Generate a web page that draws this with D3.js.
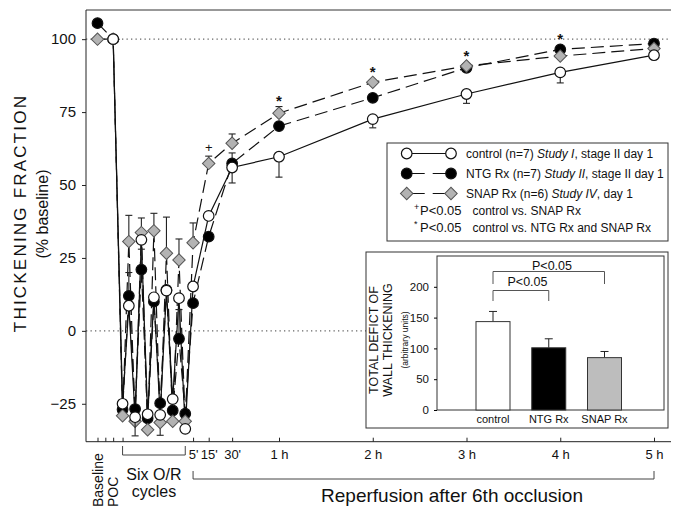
<!DOCTYPE html>
<html>
<head>
<meta charset="utf-8">
<script src="https://cdn.jsdelivr.net/npm/d3@7"></script>
<style>
  body { margin: 0; background: #fff; }
  svg { display: block; font-family: "Liberation Sans", Arial, sans-serif; }
</style>
</head>
<body>
<div id="chart"></div>
<script>
// protocol stages before reperfusion (baseline, POC, six occlusion / reperfusion cycles)
const preStages = ["Baseline", "POC", "O1", "R1", "O2", "R2", "O3", "R3", "O4", "R4", "O5", "R5", "O6"];
// reperfusion after 6th occlusion, in hours
const reperfHours = [5 / 60, 15 / 60, 30 / 60, 1, 2, 3, 4, 5];
const reperfLabels = ["5'", "15'", "30'", "1 h", "2 h", "3 h", "4 h", "5 h"];

// thickening fraction, % baseline (pre stages then reperfusion times)
const controlVals = [null, 100, -25, 8.6, -29.6, 31.2, -28.6, 11.5, -28.8, 13.8, -23.4, 11.2, -33.6,
                     15.2, 39.4, 56, 59.7, 72.6, 81.2, 88.6, 94.5];
const ntgVals     = [105.5, 100, -27, 12, -26.8, 21, -30, 10, -24.8, 14, -27.3, -2.7, -28.4,
                     9.5, 32.3, 57.4, 70.2, 79.9, 90.2, 96.5, 98.5];
const snapVals    = [100, 100, -29.1, 30.6, -31, 33.7, -33.9, 34.3, -31.4, 26.6, -31, 24.3, -31,
                     30.2, 57.4, 64.3, 74.6, 85.2, 90.8, 94.2, 96.8];

// SEM bars, signed: + drawn upward, - drawn downward, null = not shown
const controlErr = [null, null, null, null, -6.4, null, null, null, null, null, null, null, null,
                    null, null, -5.3, -7, -3, -3.2, -3.6, null];
const ntgErr     = [null, null, null, 8, null, 7, null, null, null, null, null, 10, null,
                    null, null, 3.6, null, null, null, null, null];
const snapErr    = [null, null, null, 9, null, 5, null, 6, -4.4, 12.4, null, 7.2, null,
                    6.8, 2.5, 3.2, 2.3, null, null, null, null];

// significance symbols
const sigStages = ["15'", "1 h", "2 h", "3 h", "4 h"];
const sigSymbols = ["+", "*", "*", "*", "*"];

// inset: total deficit of wall thickening
const insetCats = ["control", "NTG Rx", "SNAP Rx"];
const insetVals = [143.5, 101, 85];
const insetErr = [16.5, 14.6, 10];
const insetTicks = [0, 50, 100, 150, 200];

const W = 674, H = 508;
const svg = d3.select("#chart").append("svg").attr("width", W).attr("height", H);

const plot = { left: 86, right: 671, top: 10, bottom: 441.7 };
const y = d3.scaleLinear().domain([-38, 110]).range([plot.bottom, plot.top]);
const xPre = d3.scaleLinear().domain([0, 14]).range([97.5, 185.25]);
const xHour = d3.scaleLinear().domain([0, 5]).range([185.25, 654]);

const stageNames = preStages.concat(reperfLabels);
function slot(i) { return i === 0 ? 0 : i === 1 ? 2.5 : i + 2; }
function xAt(i) { return i < preStages.length ? xPre(slot(i)) : xHour(reperfHours[i - preStages.length]); }

// frame: top line, left axis, bottom axis
svg.append("line").attr("x1", plot.left).attr("x2", plot.right)
  .attr("y1", plot.top).attr("y2", plot.top).attr("stroke", "#333").attr("stroke-width", 1);

// dotted reference lines at 100 and 0
[100, 0].forEach(v => {
  svg.append("line").attr("x1", plot.left).attr("x2", plot.right)
    .attr("y1", y(v)).attr("y2", y(v))
    .attr("stroke", "#666").attr("stroke-width", 1.2).attr("stroke-dasharray", "1.3,3.2");
});

const yAxis = svg.append("g").attr("transform", `translate(${plot.left},0)`)
  .call(d3.axisLeft(y).tickValues([-25, 0, 25, 50, 75, 100]).tickSize(4).tickSizeOuter(0).tickPadding(6));
yAxis.select(".domain").attr("d", `M0,${plot.top}V${plot.bottom}`).attr("stroke", "#222");
yAxis.selectAll("text").style("font-size", "15px").attr("fill", "#111");
yAxis.selectAll(".tick line").attr("stroke", "#222");

svg.append("line").attr("x1", plot.left).attr("x2", plot.right)
  .attr("y1", plot.bottom).attr("y2", plot.bottom).attr("stroke", "#222");

const xAxisH = svg.append("g").attr("transform", `translate(0,${plot.bottom})`)
  .call(d3.axisBottom(xHour).tickValues(reperfHours).tickSize(-4).tickPadding(8)
    .tickFormat((d, i) => reperfLabels[i]));
xAxisH.select(".domain").remove();
xAxisH.selectAll("text").style("font-size", "13px").attr("fill", "#111");
xAxisH.selectAll(".tick line").attr("stroke", "#222");

const xAxisP = svg.append("g").attr("transform", `translate(0,${plot.bottom})`)
  .call(d3.axisBottom(xPre).tickValues([0, 1.25, 2.5, 4]).tickSize(-4).tickFormat(""));
xAxisP.select(".domain").remove();
xAxisP.selectAll(".tick line").attr("stroke", "#222");

// rotated stage labels
svg.append("text").attr("transform", `translate(${xPre(0) + 5},507) rotate(-90)`)
  .attr("text-anchor", "start").style("font-size", "14px").attr("fill", "#111").text("Baseline");
svg.append("text").attr("transform", `translate(${xPre(2.5) + 5},507) rotate(-90)`)
  .attr("text-anchor", "start").style("font-size", "14px").attr("fill", "#111").text("POC");

// brackets
const br1y = 455;
svg.append("path")
  .attr("d", `M${xPre(4)},${br1y - 9}V${br1y}H${xPre(14)}V${br1y - 9}`)
  .attr("fill", "none").attr("stroke", "#444");
svg.append("text").attr("x", (xPre(4) + xPre(14)) / 2).attr("y", 480)
  .attr("text-anchor", "middle").style("font-size", "16px").attr("fill", "#111").text("Six O/R");
svg.append("text").attr("x", (xPre(4) + xPre(14)) / 2).attr("y", 497)
  .attr("text-anchor", "middle").style("font-size", "16px").attr("fill", "#111").text("cycles");

const br2y = 479;
svg.append("path")
  .attr("d", `M${xHour(reperfHours[0])},${br2y - 8}V${br2y}H${xHour(5)}V${br2y - 8}`)
  .attr("fill", "none").attr("stroke", "#444");
svg.append("text").attr("x", 452).attr("y", 502)
  .attr("text-anchor", "middle").style("font-size", "19px").attr("fill", "#111")
  .text("Reperfusion after 6th occlusion");

// y axis title
svg.append("text").attr("transform", "translate(26,213) rotate(-90)")
  .attr("text-anchor", "middle").style("font-size", "17px").style("letter-spacing", "2.2px")
  .attr("fill", "#111").text("THICKENING FRACTION");
svg.append("text").attr("transform", "translate(48,214) rotate(-90)")
  .attr("text-anchor", "middle").style("font-size", "16px").attr("fill", "#111")
  .text("(% baseline)");

// series
const series = [
  { name: "NTG", vals: ntgVals, err: ntgErr, shape: "circle", fill: "#000", dash: "13,6" },
  { name: "SNAP", vals: snapVals, err: snapErr, shape: "diamond", fill: "#b3b3b3", dash: "13,6" },
  { name: "control", vals: controlVals, err: controlErr, shape: "circle", fill: "#fff", dash: null }
];

const line = d3.line().defined(d => d.v !== null).x(d => xAt(d.i)).y(d => y(d.v));

series.forEach(s => {
  const pts = s.vals.map((v, i) => ({ i, v, e: s.err[i] }));
  svg.append("path").datum(pts).attr("d", line)
    .attr("fill", "none").attr("stroke", "#111").attr("stroke-width", 1.2)
    .attr("stroke-dasharray", s.dash);
});

series.forEach(s => {
  const pts = s.vals.map((v, i) => ({ i, v, e: s.err[i] })).filter(d => d.v !== null);
  const g = svg.append("g");
  const eb = g.selectAll(".eb").data(pts.filter(d => d.e !== null)).enter().append("g");
  eb.append("line").attr("x1", d => xAt(d.i)).attr("x2", d => xAt(d.i))
    .attr("y1", d => y(d.v)).attr("y2", d => y(d.v + d.e)).attr("stroke", "#222").attr("stroke-width", 1.1);
  eb.append("line").attr("x1", d => xAt(d.i) - 3.5).attr("x2", d => xAt(d.i) + 3.5)
    .attr("y1", d => y(d.v + d.e)).attr("y2", d => y(d.v + d.e)).attr("stroke", "#222").attr("stroke-width", 1.1);
  if (s.shape === "circle") {
    g.selectAll(".m").data(pts).enter().append("circle")
      .attr("cx", d => xAt(d.i)).attr("cy", d => y(d.v)).attr("r", 5.3)
      .attr("fill", s.fill).attr("stroke", "#111").attr("stroke-width", 1.2);
  } else {
    g.selectAll(".m").data(pts).enter().append("path")
      .attr("transform", d => `translate(${xAt(d.i)},${y(d.v)}) rotate(45)`)
      .attr("d", "M-4.4,-4.4H4.4V4.4H-4.4Z")
      .attr("fill", s.fill).attr("stroke", "#555").attr("stroke-width", 1);
  }
});

// significance marks above the highest point / error bar
sigStages.forEach((st, k) => {
  const i = stageNames.indexOf(st);
  const topVal = d3.max(series, s => s.vals[i]);
  const topErr = d3.max(series, s => s.vals[i] + (s.err[i] > 0 ? s.err[i] : 0));
  const cy = Math.min(y(topVal) - 14, y(topErr) - 9);
  const plus = sigSymbols[k] === "+";
  svg.append("text").attr("x", xAt(i)).attr("y", cy + (plus ? 4.5 : 8.7))
    .attr("text-anchor", "middle").style("font-size", plus ? "13px" : "15px")
    .style("font-weight", plus ? "normal" : "bold").attr("fill", "#111").text(sigSymbols[k]);
});

// legend
const lg = { x: 387, y: 143, w: 281, h: 98 };
svg.append("rect").attr("x", lg.x).attr("y", lg.y).attr("width", lg.w).attr("height", lg.h)
  .attr("fill", "#fff").attr("stroke", "#333");
const legendRows = [
  { s: series[2], a: "control (n=7) ", b: "Study I", c: ", stage II day 1" },
  { s: series[0], a: "NTG Rx (n=7) ", b: "Study II", c: ", stage II day 1" },
  { s: series[1], a: "SNAP Rx (n=6) ", b: "Study IV", c: ", day 1" }
];
legendRows.forEach((r, k) => {
  const ly = 153.5 + k * 20;
  const x0 = 406.7, x1 = 451;
  svg.append("line").attr("x1", x0).attr("x2", x1).attr("y1", ly).attr("y2", ly)
    .attr("stroke", "#111").attr("stroke-width", 1.2)
    .attr("stroke-dasharray", r.s.dash ? "18,8" : null);
  [x0, x1].forEach(cx => {
    if (r.s.shape === "circle") {
      svg.append("circle").attr("cx", cx).attr("cy", ly).attr("r", 5.3)
        .attr("fill", r.s.fill).attr("stroke", "#111").attr("stroke-width", 1.2);
    } else {
      svg.append("path").attr("transform", `translate(${cx},${ly}) rotate(45)`)
        .attr("d", "M-4.4,-4.4H4.4V4.4H-4.4Z")
        .attr("fill", r.s.fill).attr("stroke", "#555").attr("stroke-width", 1);
    }
  });
  const t = svg.append("text").attr("x", 466).attr("y", ly + 4.2).style("font-size", "12px").attr("fill", "#111");
  t.append("tspan").text(r.a);
  t.append("tspan").style("font-style", "italic").text(r.b);
  t.append("tspan").text(r.c);
});
const sigRows = [
  { sym: "+", txt: "control vs. SNAP Rx" },
  { sym: "*", txt: "control vs. NTG Rx and SNAP Rx" }
];
sigRows.forEach((r, k) => {
  const ly = 214.5 + k * 17;
  svg.append("text").attr("x", 414).attr("y", ly - 5).style("font-size", "9px").attr("fill", "#111").text(r.sym);
  svg.append("text").attr("x", 420).attr("y", ly).style("font-size", "13px").attr("fill", "#111").text("P<0.05");
  svg.append("text").attr("x", 472.5).attr("y", ly).style("font-size", "12px").attr("fill", "#111").text(r.txt);
});

// inset bar chart
const ib = { x: 366, y: 252, w: 302, h: 176 };
svg.append("rect").attr("x", ib.x).attr("y", ib.y).attr("width", ib.w).attr("height", ib.h)
  .attr("fill", "#fff").attr("stroke", "#333");
const ip = { left: 437, right: 664, top: 256, bottom: 410 };
const iy = d3.scaleLinear().domain([0, 250]).range([ip.bottom, ip.top]);
const ix = d3.scalePoint().domain(insetCats).range([493, 604.5]);
const barW = 34;
svg.append("rect").attr("x", ip.left).attr("y", ip.top).attr("width", ip.right - ip.left)
  .attr("height", ip.bottom - ip.top).attr("fill", "none").attr("stroke", "#333");
const iyAxis = svg.append("g").attr("transform", `translate(${ip.left},0)`)
  .call(d3.axisLeft(iy).tickValues(insetTicks).tickSize(3).tickSizeOuter(0).tickPadding(5));
iyAxis.select(".domain").remove();
iyAxis.selectAll("text").style("font-size", "11.5px").attr("fill", "#111");

const barFills = ["#fff", "#000", "#bdbdbd"];
insetCats.forEach((c, k) => {
  const cx = ix(c);
  svg.append("line").attr("x1", cx).attr("x2", cx).attr("y1", iy(insetVals[k]))
    .attr("y2", iy(insetVals[k] + insetErr[k])).attr("stroke", "#222");
  svg.append("line").attr("x1", cx - 4).attr("x2", cx + 4).attr("y1", iy(insetVals[k] + insetErr[k]))
    .attr("y2", iy(insetVals[k] + insetErr[k])).attr("stroke", "#222");
  svg.append("rect").attr("x", cx - barW / 2).attr("y", iy(insetVals[k]))
    .attr("width", barW).attr("height", iy(0) - iy(insetVals[k]))
    .attr("fill", barFills[k]).attr("stroke", "#333").attr("stroke-width", 1);
  svg.append("text").attr("x", cx).attr("y", 423).attr("text-anchor", "middle")
    .style("font-size", "11px").attr("fill", "#111").text(c);
});

// significance brackets in inset
[[0, 1, 290.5, 301, 286, 527.5], [0, 2, 271.5, 284, 269.5, 552]].forEach(b => {
  const a = ix(insetCats[b[0]]), e = ix(insetCats[b[1]]);
  svg.append("path").attr("d", `M${a},${b[3]}V${b[2]}H${e}V${b[3]}`)
    .attr("fill", "none").attr("stroke", "#555");
  svg.append("text").attr("x", b[5]).attr("y", b[4])
    .attr("text-anchor", "middle").style("font-size", "12.5px").attr("fill", "#111").text("P<0.05");
});

// inset y title
const itY = 340;
[["TOTAL DEFICT OF", 378, "12.5px"], ["WALL THICKENING", 392, "12.5px"], ["(arbitrary units)", 408, "8.5px"]]
  .forEach(r => {
    svg.append("text").attr("transform", `translate(${r[1]},${itY}) rotate(-90)`)
      .attr("text-anchor", "middle").style("font-size", r[2]).attr("fill", "#111").text(r[0]);
  });
</script>
</body>
</html>
